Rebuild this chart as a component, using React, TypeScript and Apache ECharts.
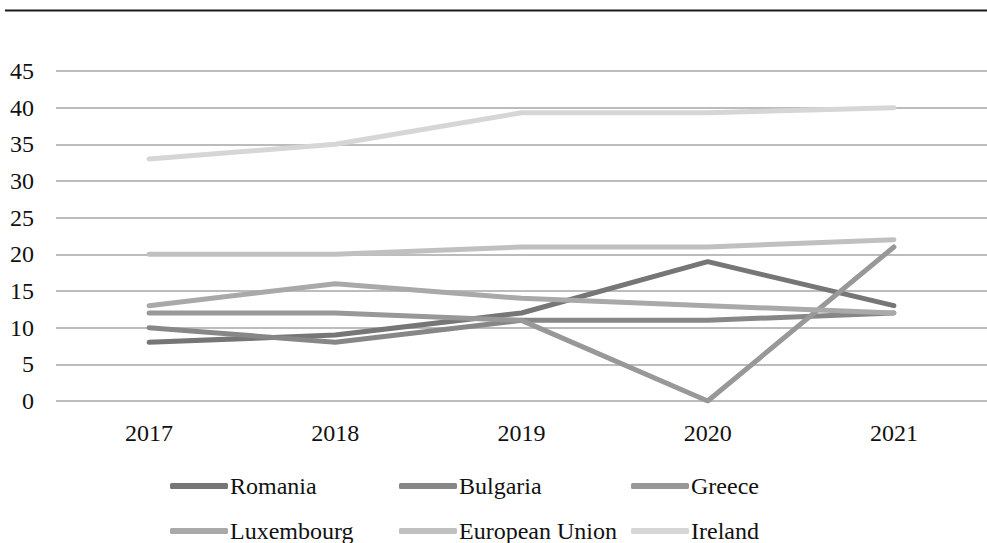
import React, { useEffect, useRef } from "react";
import * as echarts from "echarts";

const years = ["2017", "2018", "2019", "2020", "2021"];
const romania = [8, 9, 12, 19, 13];
const bulgaria = [10, 8, 11, 11, 12];
const greece = [12, 12, 11, 0, 21];
const luxembourg = [13, 16, 14, 13, 12];
const europeanUnion = [20, 20, 21, 21, 22];
const ireland = [33, 35, 39.3, 39.3, 40];

const seriesNames = ["Romania", "Bulgaria", "Greece", "Luxembourg", "European Union", "Ireland"];
const seriesData = [romania, bulgaria, greece, luxembourg, europeanUnion, ireland];
const seriesColors = ["#767676", "#878787", "#989898", "#a9a9a9", "#c0c0c0", "#d6d6d6"];

const FONT = "Liberation Serif";

export default function App() {
  const ref = useRef<HTMLDivElement>(null);
  useEffect(() => {
    if (!ref.current) return;
    const chart = echarts.init(ref.current, undefined, { renderer: "svg" });
    const legendPos = [
      { left: 170, top: 474 },
      { left: 399, top: 474 },
      { left: 631, top: 474 },
      { left: 170, top: 519 },
      { left: 399, top: 519 },
      { left: 631, top: 519 },
    ];
    chart.setOption({
      animation: false,
      backgroundColor: "#ffffff",
      textStyle: { fontFamily: FONT },
      grid: { left: 56, right: -11.5, top: 71, bottom: 142, containLabel: false },
      graphic: [
        {
          type: "line",
          shape: { x1: 5, y1: 10.5, x2: 987, y2: 10.5 },
          style: { stroke: "#1a1a1a", lineWidth: 2 },
        },
      ],
      legend: seriesNames.map((name, i) => ({
        data: [name],
        left: legendPos[i].left,
        top: legendPos[i].top,
        orient: "horizontal",
        icon: "roundRect",
        itemWidth: 58,
        itemHeight: 6,
        padding: 0,
        selectedMode: false,
        textStyle: { fontFamily: FONT, fontSize: 24, color: "#111", padding: [0, 0, 0, -3] },
      })),
      xAxis: {
        type: "category",
        data: years,
        boundaryGap: true,
        axisLine: { show: false },
        axisTick: { show: false },
        axisLabel: { fontFamily: FONT, fontSize: 24, color: "#111", margin: 20 },
      },
      yAxis: {
        type: "value",
        min: 0,
        max: 45,
        interval: 5,
        axisLine: { show: false },
        axisTick: { show: false },
        axisLabel: { fontFamily: FONT, fontSize: 24, color: "#111", margin: 22 },
        splitLine: { lineStyle: { color: "#bcbcbc", width: 2 } },
      },
      series: seriesNames.map((name, i) => ({
        name,
        type: "line",
        data: seriesData[i],
        symbol: "none",
        showSymbol: false,
        color: seriesColors[i],
        lineStyle: { color: seriesColors[i], width: 5, cap: "round", join: "round" },
      })),
    });
    return () => chart.dispose();
  }, []);
  return (
    <div
      ref={ref}
      style={{ position: "fixed", left: 0, top: 0, width: 987, height: 543 }}
    />
  );
}
